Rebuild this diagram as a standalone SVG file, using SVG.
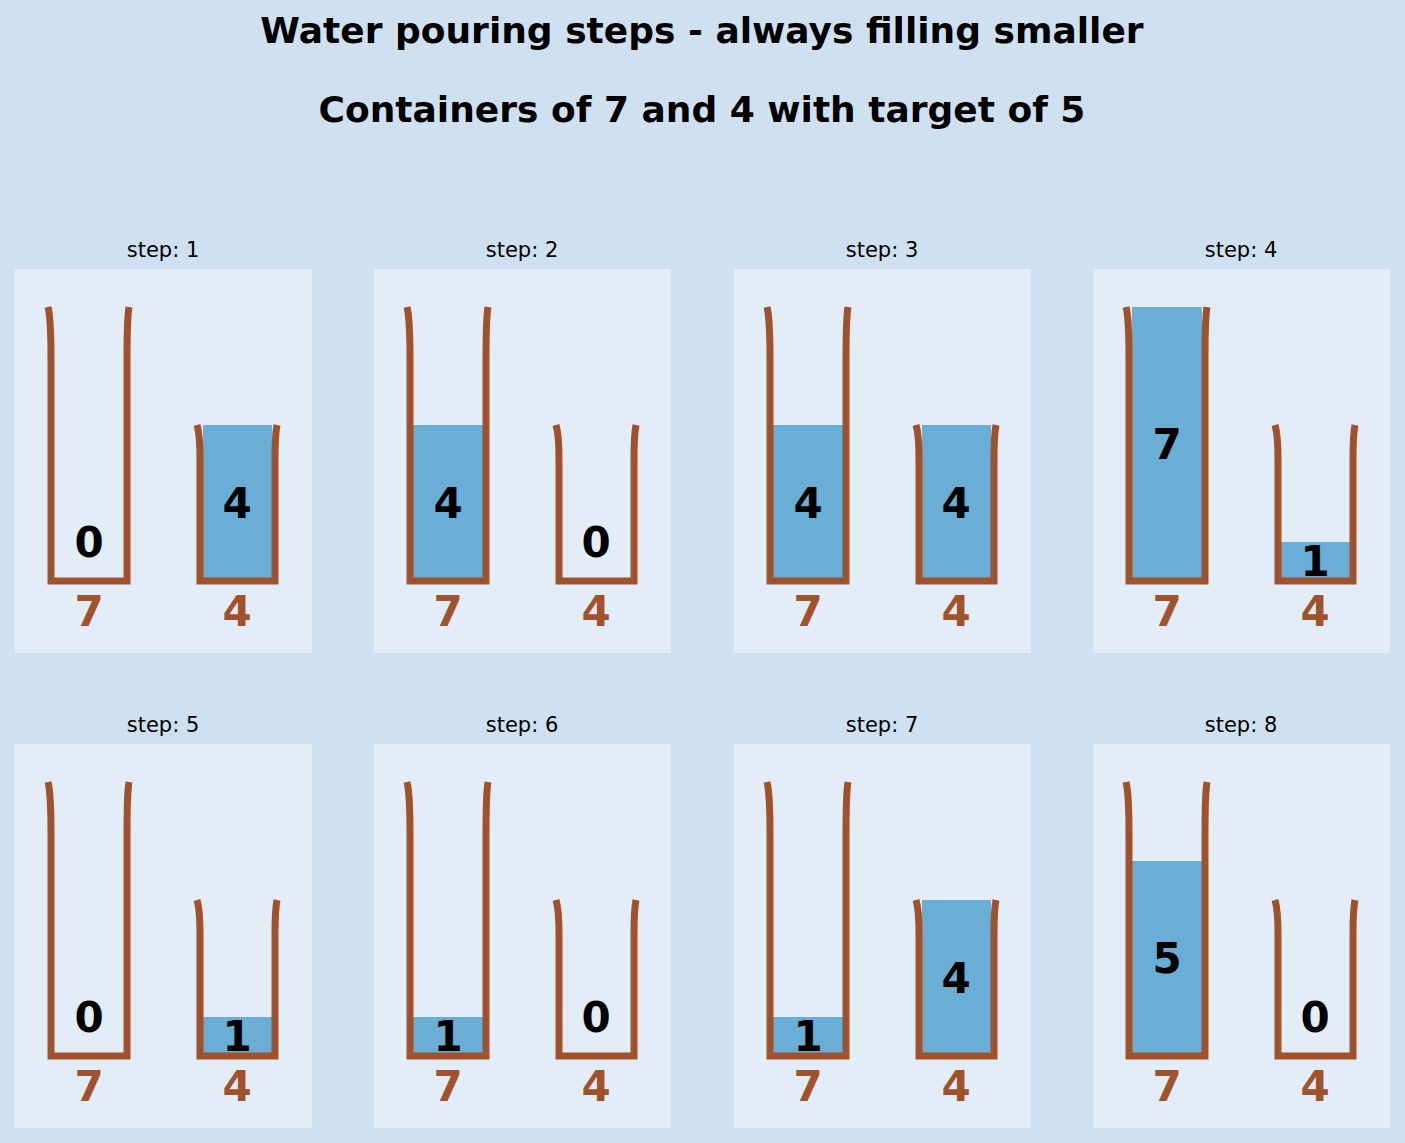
<svg xmlns="http://www.w3.org/2000/svg" xmlns:xlink="http://www.w3.org/1999/xlink" width="1405" height="1143" viewBox="0 0 1405 1143">
<style>
.bg{fill:#cfe0f0}.pn{fill:#e3edf7}.w{fill:#6aadd5}
.c{fill:none;stroke:#a0522d;stroke-width:7}
.t{font-family:"DejaVu Sans",sans-serif;font-weight:bold;text-anchor:middle}
.h{font-size:36px}.n{font-size:42px;fill:#000}.cap{font-size:42px;fill:#a0522d}
.s{font-family:"DejaVu Sans",sans-serif;font-size:21px;text-anchor:middle}
</style>
<defs>
<g id="base">
<rect class="pn" x="0" y="0" width="297" height="384"/>
</g>
<g id="cont">
<path class="c" d="M33 38 Q36 50 36 90 L36 312 L112 312 L112 90 Q112 50 114 38"/>
<path class="c" d="M182 156 Q185 166 185 190 L185 312 L260 312 L260 190 Q260 166 262 156"/>
<text class="t cap" x="74" y="357">7</text>
<text class="t cap" x="222" y="357">4</text>
</g>
</defs>
<rect class="bg" x="0" y="0" width="1405" height="1143"/>
<text class="t h" x="702" y="43">Water pouring steps - always filling smaller</text>
<text class="t h" x="702" y="122">Containers of 7 and 4 with target of 5</text>

<g id="step1" transform="translate(15,269)">
<use xlink:href="#base"/><text class="s" x="148" y="-12">step: 1</text>
<rect class="w" x="188" y="156" width="69" height="156"/>
<use xlink:href="#cont"/>
<text class="t n" x="74" y="288">0</text><text class="t n" x="222" y="249">4</text>
</g>
<g id="step2" transform="translate(374,269)">
<use xlink:href="#base"/><text class="s" x="148" y="-12">step: 2</text>
<rect class="w" x="39" y="156" width="70" height="156"/>
<use xlink:href="#cont"/>
<text class="t n" x="74" y="249">4</text><text class="t n" x="222" y="288">0</text>
</g>
<g id="step3" transform="translate(734,269)">
<use xlink:href="#base"/><text class="s" x="148" y="-12">step: 3</text>
<rect class="w" x="39" y="156" width="70" height="156"/>
<rect class="w" x="188" y="156" width="69" height="156"/>
<use xlink:href="#cont"/>
<text class="t n" x="74" y="249">4</text><text class="t n" x="222" y="249">4</text>
</g>
<g id="step4" transform="translate(1093,269)">
<use xlink:href="#base"/><text class="s" x="148" y="-12">step: 4</text>
<rect class="w" x="39" y="38" width="70" height="274"/>
<rect class="w" x="188" y="273" width="69" height="39"/>
<use xlink:href="#cont"/>
<text class="t n" x="74" y="190">7</text><text class="t n" x="222" y="307">1</text>
</g>
<g id="step5" transform="translate(15,744)">
<use xlink:href="#base"/><text class="s" x="148" y="-12">step: 5</text>
<rect class="w" x="188" y="273" width="69" height="39"/>
<use xlink:href="#cont"/>
<text class="t n" x="74" y="288">0</text><text class="t n" x="222" y="307">1</text>
</g>
<g id="step6" transform="translate(374,744)">
<use xlink:href="#base"/><text class="s" x="148" y="-12">step: 6</text>
<rect class="w" x="39" y="273" width="70" height="39"/>
<use xlink:href="#cont"/>
<text class="t n" x="74" y="307">1</text><text class="t n" x="222" y="288">0</text>
</g>
<g id="step7" transform="translate(734,744)">
<use xlink:href="#base"/><text class="s" x="148" y="-12">step: 7</text>
<rect class="w" x="39" y="273" width="70" height="39"/>
<rect class="w" x="188" y="156" width="69" height="156"/>
<use xlink:href="#cont"/>
<text class="t n" x="74" y="307">1</text><text class="t n" x="222" y="249">4</text>
</g>
<g id="step8" transform="translate(1093,744)">
<use xlink:href="#base"/><text class="s" x="148" y="-12">step: 8</text>
<rect class="w" x="39" y="117" width="70" height="195"/>
<use xlink:href="#cont"/>
<text class="t n" x="74" y="229">5</text><text class="t n" x="222" y="288">0</text>
</g>
<g id="connectors"/>
</svg>
